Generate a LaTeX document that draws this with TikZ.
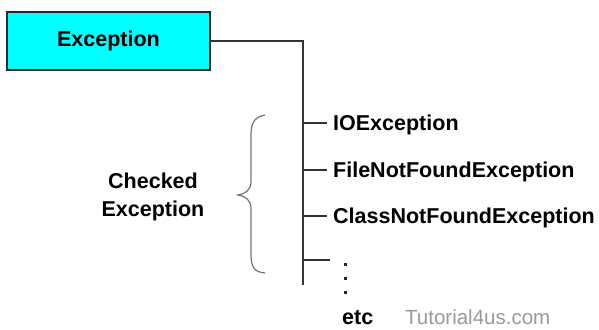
\documentclass[tikz,border=0pt]{standalone}
\usepackage{fontspec}
\setmainfont{Liberation Sans}
\usetikzlibrary{positioning}
\definecolor{boxcyan}{RGB}{0,255,255}
\tikzset{
  leaf/.style={anchor=west,inner xsep=6pt,inner ysep=0pt,text height=15pt,text depth=0pt,font=\bfseries\fontsize{21.5}{24}\selectfont},
  conn/.style={draw=black!80,line width=1.6pt}
}
\begin{document}
\begin{tikzpicture}[x=1pt,y=-1pt]
\path[use as bounding box] (0,0) rectangle (599,329);
\node[draw=black!85,line width=1.6pt,fill=boxcyan,minimum width=203pt,minimum height=58pt,inner sep=0pt,font=\bfseries\fontsize{21.5}{24}\selectfont] (exc) at (108.5,41) {Exception};
\coordinate (trunkend) at (303,285);
\draw[conn] (exc.east) -| (trunkend);
\node[leaf] (io) at (327,123) {IOException};
\node[leaf] (fnf) at (327,170) {FileNotFoundException};
\node[leaf] (cnf) at (327,216) {ClassNotFoundException};
\coordinate (more) at (330,260);
\draw[conn] (io.west -| trunkend) -- (io.west);
\draw[conn] (fnf.west -| trunkend) -- (fnf.west);
\draw[conn] (cnf.west -| trunkend) -- (cnf.west);
\draw[conn] (more -| trunkend) -- (more);
% vertical dots
\fill[black!85] (343.5,262.5) rectangle (346.5,265.5);
\fill[black!85] (343.5,276.5) rectangle (346.5,279.5);
\fill[black!85] (343.5,290.5) rectangle (346.5,293.5);
\node[anchor=base west,inner sep=0pt,font=\bfseries\fontsize{21.5}{24}\selectfont] (etc) at (342,324) {etc};
\node[anchor=base west,inner sep=0pt,text=black!40,font=\fontsize{20.5}{24}\selectfont] (mark) at (405,324) {Tutorial4us.com};
% brace
\draw[black!55,line width=1.2pt] (265,115) .. controls (255,117) and (251,122) .. (251,135) -- (251,182) .. controls (251,190) and (245,194) .. (238,195) .. controls (245,196) and (251,200) .. (251,208) -- (251,255) .. controls (251,268) and (255,272) .. (265,273);
\node[align=center,inner sep=0pt,font=\bfseries\fontsize{21.5}{28}\selectfont] (checked) at (153,197) {Checked\\Exception};
\end{tikzpicture}
\end{document}
